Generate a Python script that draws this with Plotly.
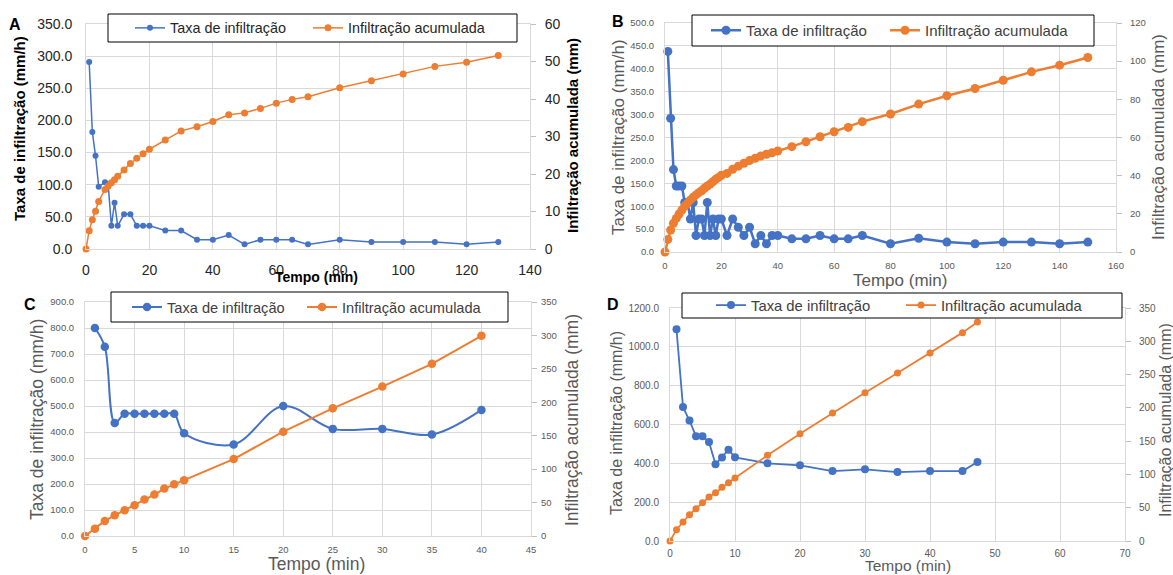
import plotly.graph_objects as go

W, H = 1173, 575
def px(x): return x / W
def py(y): return 1 - y / H

BLUE = '#4472C4'
ORANGE = '#ED7D31'
GRID = '#D9D9D9'
GRAYTXT = '#595959'
REG = 'Liberation Sans, Arial, sans-serif'

# ---------------- data ----------------
# Panel A
a_t_rate = [1, 2, 3, 4, 6, 7, 8, 9, 10, 12, 14, 16, 18, 20, 25, 30, 35, 40, 45, 50, 55, 60, 65, 70, 80, 90, 100, 110, 120, 130]
a_rate = [291, 182, 145, 97, 104, 100, 36, 72, 36, 54, 54, 36, 36, 36, 28.8, 28.8, 14.4, 14.4, 21.6, 7.2,
          14.4, 14.4, 14.4, 7.2, 14.4, 10.8, 10.8, 10.8, 7.2, 10.8]
a_t_cum = [0, 1, 2, 3, 4, 6, 7, 8, 9, 10, 12, 14, 16, 18, 20, 25, 30, 35, 40, 45, 50, 55, 60, 65, 70, 80, 90, 100, 110, 120, 130]
a_cum = [0, 4.9, 7.8, 10.1, 12.7, 15.9, 16.8, 17.7, 18.5, 19.4, 21.1, 22.8, 24.2, 25.4, 26.6, 29.1, 31.5, 32.6,
         34.0, 35.8, 36.3, 37.5, 38.9, 39.9, 40.6, 43.0, 44.9, 46.7, 48.7, 49.8, 51.6]

# Panel B
b_t_rate = [1, 2, 3, 4, 5, 6, 7, 8, 9, 10, 11, 12, 13, 14, 15, 16, 17, 18, 19, 20, 22, 24, 26, 28, 30, 32, 34, 36,
            38, 40, 45, 50, 55, 60, 65, 70, 80, 90, 100, 110, 120, 130, 140, 150]
b_rate = [438, 292, 180, 144, 144, 144, 108, 108, 72, 108, 36, 72, 72, 36, 108, 36, 72, 36, 72, 72, 36, 72, 54, 36,
          54, 18, 36, 18, 36, 36, 28.8, 28.8, 36, 28.8, 28.8, 36, 18, 30, 21.6, 18, 21.6, 21.6, 18, 21.6]
b_t_cum = [0] + b_t_rate
b_cum = [0, 6.6, 11.5, 15.0, 17.6, 19.9, 22.0, 24.1, 25.5, 27.3, 28.7, 29.9, 31.1, 32.1, 33.4, 34.6, 35.6, 36.8,
         38.1, 39.1, 40.2, 41.2, 43.3, 45.0, 46.5, 47.9, 49.1, 50.3, 51.2, 52.0, 52.9, 55.2, 57.8, 60.4, 63.0,
         65.3, 68.3, 72.3, 77.5, 81.9, 85.7, 90.0, 94.4, 97.9, 101.9]

# Panel C
c_t_rate = [1, 2, 3, 4, 5, 6, 7, 8, 9, 10, 15, 20, 25, 30, 35, 40]
c_rate = [800, 728, 435, 470, 470, 470, 470, 470, 470, 395, 352, 500, 412, 412, 390, 485]
c_t_cum = [0, 1, 2, 3, 4, 5, 6, 7, 8, 9, 10, 15, 20, 25, 30, 35, 40]
c_cum = [0, 11, 22.5, 31, 38.5, 46, 54.5, 62, 71, 77.5, 83.5, 115, 156, 191, 223.5, 257.5, 299.5]

# Panel D
d_t_rate = [1, 2, 3, 4, 5, 6, 7, 8, 9, 10, 15, 20, 25, 30, 35, 40, 45, 47.3]
d_rate = [1090, 690, 620, 540, 540, 510, 395, 430, 470, 431, 400, 390, 360, 369, 355, 360, 360, 407]
d_t_cum = [0] + d_t_rate
d_cum = [0, 17, 28.5, 39.5, 48.6, 57.6, 66, 72.6, 80.6, 87.6, 94.6, 128.7, 161.2, 192.3, 222.8, 252.4, 282.4, 313, 329]

NAME_RATE = 'Taxa de infiltração'
NAME_CUM = 'Infiltração acumulada'
YL_TITLE = 'Taxa de infiltração (mm/h)'
YR_TITLE = 'Infiltração acumulada (mm)'
X_TITLE = 'Tempo (min)'

fig = go.Figure()

panels = [
    dict(t1=a_t_rate, y1=a_rate, t2=a_t_cum, y2=a_cum, xa='x', ya='y', yb='y2', lg1='legend', lg2='legend2',
         lw=1.5, m1=6, m2=7, shape1='linear'),
    dict(t1=b_t_rate, y1=b_rate, t2=b_t_cum, y2=b_cum, xa='x2', ya='y3', yb='y4', lg1='legend3', lg2='legend4',
         lw=2.5, m1=9, m2=9, shape1='linear'),
    dict(t1=c_t_rate, y1=c_rate, t2=c_t_cum, y2=c_cum, xa='x3', ya='y5', yb='y6', lg1='legend5', lg2='legend6',
         lw=2, m1=8.5, m2=8.5, shape1='spline'),
    dict(t1=d_t_rate, y1=d_rate, t2=d_t_cum, y2=d_cum, xa='x4', ya='y7', yb='y8', lg1='legend7', lg2='legend8',
         lw=1.8, m1=8, m2=7, shape1='linear'),
]
for p in panels:
    fig.add_trace(go.Scatter(x=p['t1'], y=p['y1'], name=NAME_RATE, mode='lines+markers',
                             line=dict(color=BLUE, width=p['lw'], shape=p['shape1']),
                             marker=dict(color=BLUE, size=p['m1']),
                             xaxis=p['xa'], yaxis=p['ya'], legend=p['lg1'], cliponaxis=False))
    fig.add_trace(go.Scatter(x=p['t2'], y=p['y2'], name=NAME_CUM, mode='lines+markers',
                             line=dict(color=ORANGE, width=p['lw']),
                             marker=dict(color=ORANGE, size=p['m2']),
                             xaxis=p['xa'], yaxis=p['yb'], legend=p['lg2'], cliponaxis=False))

# ---------------- axes ----------------
geo = {
    'A': dict(x0=86, x1=530, y0=24, y1=249),
    'B': dict(x0=665, x1=1116, y0=23, y1=252),
    'C': dict(x0=85, x1=531, y0=302, y1=536),
    'D': dict(x0=670, x1=1125, y0=308, y1=541),
}

def xax(g, rng, dt, font, standoff, anchor):
    return dict(domain=[px(g['x0']), px(g['x1'])], range=rng, dtick=dt, tick0=0, anchor=anchor,
                showgrid=True, gridcolor=GRID, gridwidth=1, zeroline=False,
                showline=True, linecolor=GRID, mirror=True, ticks='', tickfont=font,
                ticklabelstandoff=standoff, fixedrange=True, automargin=False)

def yax(g, rng, dt, font, standoff, anchor):
    return dict(domain=[py(g['y1']), py(g['y0'])], range=rng, dtick=dt, tick0=0, anchor=anchor,
                showgrid=True, gridcolor=GRID, gridwidth=1, zeroline=False,
                showline=True, linecolor=GRID, mirror=True, ticks='', tickfont=font,
                tickformat='.1f', ticklabelstandoff=standoff, automargin=False)

def y2ax(rng, dt, font, standoff, over, anchor):
    return dict(range=rng, dtick=dt, tick0=0, overlaying=over, side='right', anchor=anchor,
                showgrid=False, zeroline=False, showline=False, ticks='outside', ticklen=5,
                tickcolor='#BFBFBF', tickfont=font, ticklabelstandoff=standoff, automargin=False)

fA = dict(family=REG, size=14, color='#262626')
fS = dict(family=REG, size=9.5, color=GRAYTXT)
fD = dict(family=REG, size=10, color=GRAYTXT)

fig.update_layout(
    xaxis=xax(geo['A'], [0, 140], 20, fA, 8, 'y'),
    yaxis=yax(geo['A'], [0, 350], 50, fA, 10, 'x'),
    yaxis2=y2ax([0, 60], 10, fA, 6, 'y', 'x'),
    xaxis2=xax(geo['B'], [0, 160], 20, fS, 5, 'y3'),
    yaxis3=yax(geo['B'], [0, 500], 50, fS, 8, 'x2'),
    yaxis4=y2ax([0, 120], 20, fS, 6, 'y3', 'x2'),
    xaxis3=xax(geo['C'], [0, 45], 5, fS, 5, 'y5'),
    yaxis5=yax(geo['C'], [0, 900], 100, fS, 8, 'x3'),
    yaxis6=y2ax([0, 350], 50, fS, 2, 'y5', 'x3'),
    xaxis4=xax(geo['D'], [0, 70], 10, fD, 3, 'y7'),
    yaxis7=yax(geo['D'], [0, 1200], 200, fD, 8, 'x4'),
    yaxis8=y2ax([0, 350], 50, fD, 6, 'y7', 'x4'),
)

# ---------------- legend boxes & legends ----------------
boxes = [(108, 14, 517, 42), (692, 15, 1094, 46), (111, 292, 508, 322), (682, 293, 1122, 318)]
shapes = []
for (x0, y0, x1, y1) in boxes:
    shapes.append(dict(type='rect', xref='paper', yref='paper', x0=px(x0), x1=px(x1), y0=py(y1), y1=py(y0),
                       line=dict(color='#000000', width=1), fillcolor='white', layer='above'))
fig.update_layout(shapes=shapes)

leg_font_A = dict(family=REG, size=14.4, color='#262626')
leg_font_B = dict(family=REG, size=15, color='#404040')
leg_font_C = dict(family=REG, size=14.6, color='#404040')
leg_font_D = dict(family=REG, size=14.8, color='#404040')

def leg(xtext, ycen, font):
    return dict(x=px(xtext - 40), y=py(ycen), xanchor='left', yanchor='middle', orientation='h',
                bgcolor='rgba(0,0,0,0)', borderwidth=0, font=font, itemwidth=30, itemclick=False,
                itemdoubleclick=False)

fig.update_layout(
    legend=leg(170, 28, leg_font_A), legend2=leg(348, 28, leg_font_A),
    legend3=leg(746, 30.5, leg_font_B), legend4=leg(925, 30.5, leg_font_B),
    legend5=leg(167, 307, leg_font_C), legend6=leg(342, 307, leg_font_C),
    legend7=leg(751, 305.5, leg_font_D), legend8=leg(941, 305.5, leg_font_D),
)

# ---------------- titles (annotations) ----------------
ann = []
def txt(x, y, s, font, angle=0):
    ann.append(dict(x=px(x), y=py(y), xref='paper', yref='paper', text=s, showarrow=False,
                    xanchor='center', yanchor='middle', textangle=angle, font=font))

bA = dict(family=REG, size=15, color='#000000')
txt(20, 129, '<b>' + YL_TITLE + '</b>', bA, -90)
txt(572, 136, '<b>' + YR_TITLE + '</b>', bA, -90)
txt(316, 277, '<b>' + X_TITLE + '</b>', dict(family=REG, size=14, color='#000000'))

tB = dict(family=REG, size=17, color=GRAYTXT)
txt(618, 137, YL_TITLE, tB, -90)
txt(1158, 137, YR_TITLE, tB, -90)
txt(900, 281, X_TITLE, dict(family=REG, size=17, color=GRAYTXT))

tC = dict(family=REG, size=17.5, color=GRAYTXT)
txt(37, 420, YL_TITLE, tC, -90)
txt(572, 420, YR_TITLE, tC, -90)
txt(316, 564, X_TITLE, tC)

tD = dict(family=REG, size=16, color=GRAYTXT)
txt(616, 423, YL_TITLE, tD, -90)
txt(1165, 420, YR_TITLE, tD, -90)
txt(908, 565.5, X_TITLE, dict(family=REG, size=15.5, color=GRAYTXT))

letter = dict(family=REG, size=16, color='#000000')
txt(15, 24, '<b>A</b>', letter)
txt(618, 22, '<b>B</b>', letter)
txt(30, 304, '<b>C</b>', letter)
txt(613, 304, '<b>D</b>', letter)

fig.update_layout(annotations=ann, width=W, height=H,
                  margin=dict(l=0, r=0, t=0, b=0, pad=0, autoexpand=False),
                  plot_bgcolor='white', paper_bgcolor='white', showlegend=True)

fig.write_html('out.html', config={'displayModeBar': False},
               post_script="document.body.style.margin='0';document.body.style.padding='0';"
                           "document.documentElement.style.overflow='hidden';")
